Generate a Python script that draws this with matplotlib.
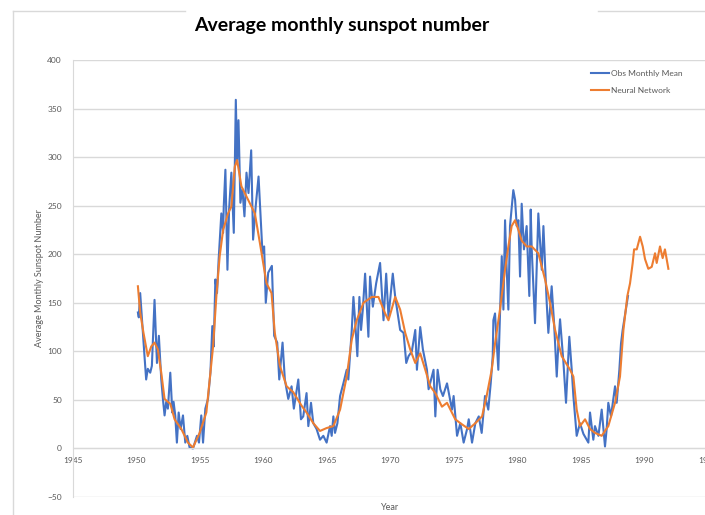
import matplotlib
matplotlib.use('Agg')
import matplotlib.pyplot as plt
from matplotlib.lines import Line2D

# 관측 월평균 (읽어낸 값)
obs_years = [1950.11, 1950.18, 1950.29, 1950.5, 1950.63, 1950.76, 1950.89, 1951.08, 1951.21, 1951.42,
             1951.61, 1951.76, 1951.95, 1952.08, 1952.21, 1952.34, 1952.47, 1952.66, 1952.82, 1952.92,
             1953.05, 1953.18, 1953.32, 1953.47, 1953.66, 1953.84, 1954.0, 1954.18, 1954.45, 1954.76,
             1954.92, 1955.1, 1955.24, 1955.42, 1955.63, 1955.82, 1955.97, 1956.08, 1956.21, 1956.34,
             1956.47, 1956.68, 1956.82, 1956.87, 1957.0, 1957.16, 1957.29, 1957.47, 1957.66, 1957.82,
             1957.92, 1958.03, 1958.18, 1958.34, 1958.5, 1958.66, 1958.82, 1959.03, 1959.18, 1959.39,
             1959.61, 1959.92, 1960.05, 1960.18, 1960.37, 1960.66, 1960.84, 1961.08, 1961.24, 1961.5,
             1961.68, 1961.95, 1962.21, 1962.39, 1962.74, 1962.95,
             1963.13, 1963.39, 1963.53, 1963.74, 1963.92, 1964.18, 1964.45, 1964.71, 1964.97, 1965.24,
             1965.37, 1965.5, 1965.63, 1965.82, 1966.03, 1966.29, 1966.55, 1966.68, 1966.95, 1967.08,
             1967.21, 1967.39, 1967.55, 1967.68, 1967.82, 1968.0, 1968.26, 1968.39, 1968.61, 1968.87,
             1969.18, 1969.45, 1969.66, 1969.84, 1970.18, 1970.37, 1970.76, 1971.03, 1971.24, 1971.42,
             1971.68, 1971.95, 1972.08, 1972.34, 1972.55, 1972.87, 1973.0, 1973.39, 1973.53, 1973.71,
             1973.92, 1974.13, 1974.45, 1974.84, 1974.97, 1975.24, 1975.5, 1975.76, 1976.03, 1976.16,
             1976.42, 1976.68, 1976.95,
             1977.18, 1977.44, 1977.7, 1977.89, 1978.05, 1978.1, 1978.23, 1978.49, 1978.62, 1978.76,
             1978.89, 1979.02, 1979.15, 1979.28, 1979.41, 1979.67, 1979.81, 1979.94, 1980.07, 1980.2,
             1980.33, 1980.51, 1980.72, 1980.93, 1981.04, 1981.12, 1981.38, 1981.64, 1981.91, 1982.04,
             1982.3, 1982.43, 1982.69, 1982.88, 1983.09, 1983.22, 1983.35, 1983.61, 1983.82, 1984.08,
             1984.27, 1984.4, 1984.66, 1984.92, 1985.19, 1985.58, 1985.71, 1985.97, 1986.1, 1986.37,
             1986.63, 1986.89, 1987.02, 1987.15, 1987.36, 1987.68, 1987.81, 1988.02, 1988.15, 1988.28,
             1988.7]
obs_values = [140, 135, 160, 119, 95, 71, 82, 78, 85, 153,
              88, 116, 71, 51, 34, 48, 41, 78, 37, 48,
              34, 6, 37, 20, 34, 6, 13, 1, 0, 13,
              6, 34, 6, 41, 51, 78, 126, 105, 174, 160,
              195, 242, 222, 249, 287, 184, 246, 284, 222, 359,
              297, 338, 253, 267, 239, 284, 263, 307, 215, 250,
              280, 201, 208, 150, 181, 188, 116, 109, 71, 109,
              71, 51, 64, 41, 71, 30,
              33, 57, 23, 47, 26, 20, 9, 13, 6, 23,
              13, 33, 16, 26, 54, 67, 81, 71, 122, 156,
              132, 95, 156, 122, 143, 180, 115, 177, 146, 170,
              191, 132, 180, 136, 180, 156, 122, 119, 88, 95,
              100, 122, 81, 125, 102, 81, 61, 81, 33, 81,
              61, 54, 67, 40, 54, 13, 26, 6, 20, 30,
              6, 26, 33,
              16, 54, 40, 67, 95, 132, 139, 81, 136, 198,
              143, 235, 184, 143, 229, 266, 256, 229, 235, 177,
              252, 205, 229, 157, 246, 205, 129, 242, 184, 229,
              150, 119, 167, 129, 74, 108, 133, 90, 47, 115,
              81, 54, 13, 26, 15, 6, 37, 9, 23, 13,
              40, 2, 20, 47, 33, 64, 47, 81, 108, 122,
              157]

# 신경망 예측값
nn_years = [1950.11, 1950.29, 1950.55, 1950.89, 1951.16, 1951.42, 1951.68, 1951.95, 1952.21, 1952.47,
            1952.66, 1953.0, 1953.53, 1954.05, 1954.45, 1954.97, 1955.5, 1956.03, 1956.29, 1956.55,
            1956.82, 1957.21, 1957.47, 1957.74, 1957.92, 1958.26, 1958.79, 1959.32, 1959.71, 1960.24,
            1960.63, 1960.89, 1961.29, 1961.82, 1962.34, 1963.0,
            1963.39, 1963.92, 1964.45, 1964.97, 1965.5, 1966.03, 1966.55, 1966.95, 1967.34, 1967.87,
            1968.53, 1969.05, 1969.58, 1969.84, 1970.37, 1970.76, 1971.16, 1971.55, 1971.95, 1972.34,
            1972.74, 1973.13, 1973.53, 1974.05, 1974.45, 1975.1, 1975.5, 1976.16, 1976.68, 1977.21,
            1977.57, 1977.97, 1978.23, 1978.62, 1979.02, 1979.28, 1979.54, 1979.81, 1980.07, 1980.33,
            1980.72, 1981.12, 1981.64, 1982.17, 1982.56, 1982.96, 1983.48, 1984.14, 1984.4, 1984.66,
            1984.92, 1985.32, 1985.71, 1986.1, 1986.63, 1987.15, 1987.68, 1988.07, 1988.34, 1988.65,
            1988.86, 1989.07, 1989.18, 1989.39, 1989.65, 1989.86, 1990.04, 1990.3, 1990.57, 1990.83,
            1990.96, 1991.22, 1991.43, 1991.61, 1991.88]
nn_values = [167, 140, 119, 95, 105, 109, 102, 78, 51, 48,
             46, 30, 20, 6, 1, 16, 37, 105, 157, 198,
             225, 242, 249, 290, 297, 270, 256, 242, 212, 170,
             160, 119, 85, 64, 58, 44,
             37, 26, 18, 21, 23, 40, 74, 112, 132, 150,
             156, 156, 139, 132, 156, 143, 119, 102, 88, 98,
             81, 64, 57, 43, 47, 30, 26, 20, 26, 33,
             54, 81, 108, 143, 184, 208, 229, 235, 225, 214,
             208, 208, 201, 174, 150, 122, 95, 81, 74, 40,
             23, 30, 20, 16, 13, 23, 47, 74, 122, 157,
             170, 191, 205, 205, 218, 208, 195, 185, 187, 201,
             191, 208, 196, 205, 185]

x_ticks = [1945, 1950, 1955, 1960, 1965, 1970, 1975, 1980, 1985, 1990, 1995]
y_ticks = [-50, 0, 50, 100, 150, 200, 250, 300, 350, 400]

plt.rcParams['font.family'] = ['Lato', 'DejaVu Sans']
grid_color = '#d9d9d9'
text_color = '#595959'

fig = plt.figure(figsize=(7.05, 5.15), dpi=100)
W, H = 705, 515

# 차트 영역 테두리 (스크린샷에서 잘린 모양)
fig.add_artist(Line2D([13 / W, 185 / W], [1 - 11 / H, 1 - 11 / H], color=grid_color, lw=1))
fig.add_artist(Line2D([598 / W, 1], [1 - 11 / H, 1 - 11 / H], color=grid_color, lw=1))
fig.add_artist(Line2D([13 / W, 13 / W], [0, 1 - 11 / H], color=grid_color, lw=1))

ax = fig.add_axes([73 / W, 1 - 497 / H, 635 / W, 437 / H])
ax.plot(obs_years, obs_values, color='#4472C4', lw=1.5, label='Obs Monthly Mean')
ax.plot(nn_years, nn_values, color='#ED7D31', lw=1.5, label='Neural Network')

ax.set_xlim(1945, 1995)
ax.set_ylim(-50, 400)
ax.set_xticks(x_ticks)
ax.set_yticks(y_ticks)
ax.grid(axis='y', color=grid_color, lw=1)
ax.set_axisbelow(True)
for s in ['top', 'right']:
    ax.spines[s].set_visible(False)
ax.spines['left'].set_color(grid_color)
ax.spines['bottom'].set_color(grid_color)
ax.spines['bottom'].set_position(('data', 0))
ax.tick_params(length=0, labelsize=6, labelcolor=text_color)
ax.tick_params(axis='x', pad=6)
ax.tick_params(axis='y', pad=8)

fig.text(342 / W, 1 - 26 / H, 'Average monthly sunspot number', ha='center', va='center',
         fontsize=14, fontweight='bold', color='black')
fig.text(40 / W, 1 - 278 / H, 'Average Monthly Sunspot Number', rotation=90, ha='center',
         va='center', fontsize=6.5, color=text_color)
fig.text(390 / W, 1 - 507 / H, 'Year', ha='center', va='center', fontsize=6.5, color=text_color)

ax.legend(loc='upper left', bbox_to_anchor=(583 / W, 1 - 62 / H), bbox_transform=fig.transFigure,
          frameon=False, fontsize=6, labelcolor=text_color, handlelength=2.2, handletextpad=0.3,
          labelspacing=1.2)

fig.savefig('out.png', dpi=100)
